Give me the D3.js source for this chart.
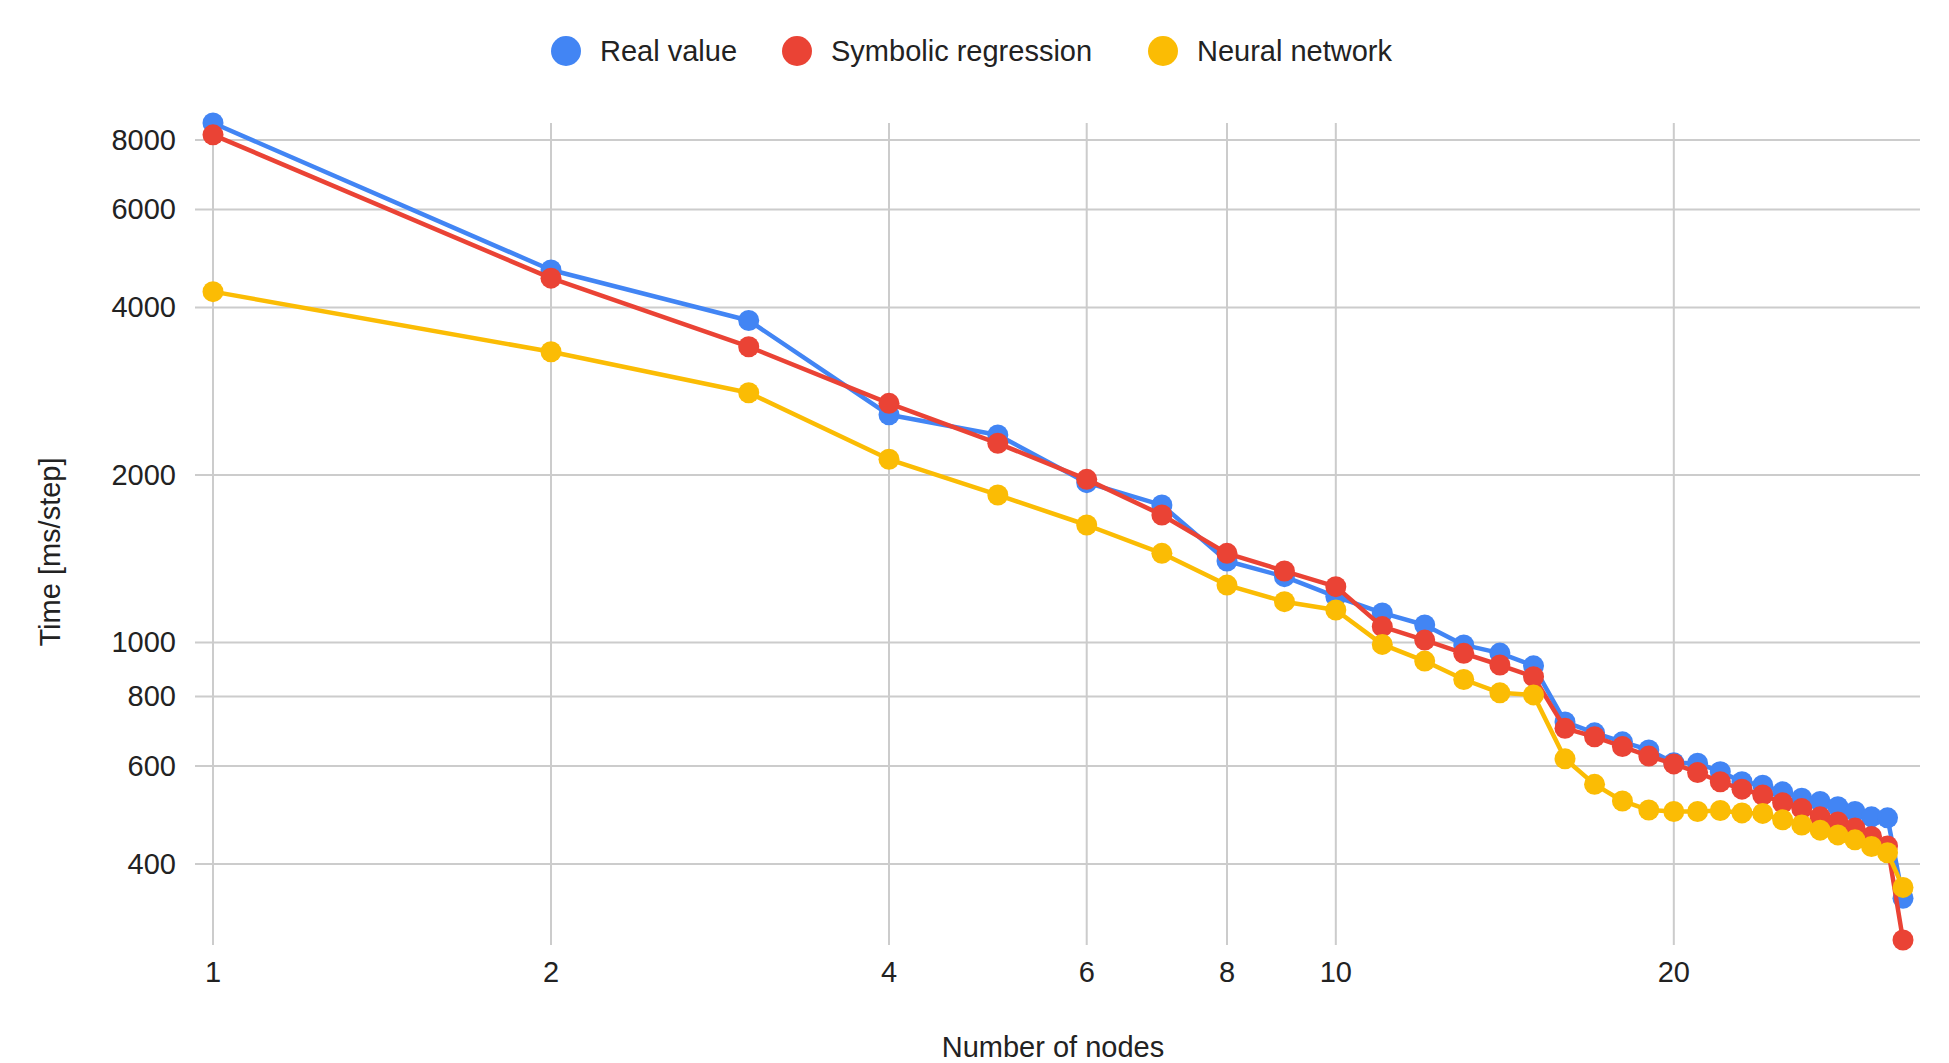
<!DOCTYPE html>
<html>
<head>
<meta charset="utf-8">
<script src="https://cdn.jsdelivr.net/npm/d3@7"></script>
<style>
  body { margin: 0; background: #fff; }
  svg text { font-family: Arial, "Liberation Sans", sans-serif; fill: #222; font-size: 29px; }
</style>
</head>
<body>
<svg id="chart" width="1949" height="1063"></svg>
<script>
// data
const nodes = d3.range(1, 33);

const realValue = [8580, 4670, 3790, 2565, 2360, 1937, 1766, 1401, 1313, 1209,
  1130, 1075, 990, 957, 908, 720, 688, 663, 641, 608,
  607, 586, 562, 554, 539, 525, 518, 507, 497, 486, 484, 347];

const symbolicRegression = [8170, 4515, 3400, 2690, 2280, 1964, 1695, 1446, 1344, 1260,
  1068, 1010, 956, 911, 868, 701, 677, 650, 625, 605,
  584, 562, 545, 532, 515, 503, 486, 476, 464, 448, 431, 292];

const neuralNetwork = [4270, 3330, 2810, 2134, 1841, 1626, 1446, 1268, 1184, 1144,
  992, 926, 858, 812, 805, 618, 556, 519, 500, 497,
  497, 499, 494, 493, 480, 470, 460, 451, 442, 430, 419, 363];

const seriesNames = ["Real value", "Symbolic regression", "Neural network"];
const seriesColors = ["#4285F4", "#EA4335", "#FBBC04"];
const xTicks = [1, 2, 4, 6, 8, 10, 20];
const yTicks = [400, 600, 800, 1000, 2000, 4000, 6000, 8000];

const series = [realValue, symbolicRegression, neuralNetwork].map((vals, i) => ({
  name: seriesNames[i],
  color: seriesColors[i],
  points: vals.map((v, j) => ({ x: nodes[j], y: v }))
}));

const svg = d3.select("#chart");
const plot = { left: 195, right: 1920, top: 123, bottom: 940 };

const allVals = realValue.concat(symbolicRegression, neuralNetwork);
const x = d3.scaleLog().domain([1, 32]).range([213, 1903]);
const y = d3.scaleLog().domain(d3.extent(allVals)).range([plot.bottom, plot.top]);

// gridlines
const grid = svg.append("g");
grid.selectAll(".hg").data(yTicks).join("line")
  .attr("x1", plot.left).attr("x2", plot.right)
  .attr("y1", d => y(d)).attr("y2", d => y(d))
  .attr("stroke", "#cccccc").attr("stroke-width", 2);
grid.selectAll(".vg").data(xTicks).join("line")
  .attr("x1", d => x(d)).attr("x2", d => x(d))
  .attr("y1", plot.top).attr("y2", plot.bottom + 5)
  .attr("stroke", "#cccccc").attr("stroke-width", 2);

// tick labels
svg.append("g").selectAll("text").data(yTicks).join("text")
  .attr("x", 176).attr("y", d => y(d))
  .attr("text-anchor", "end").attr("dominant-baseline", "central")
  .text(d => d);
svg.append("g").selectAll("text").data(xTicks).join("text")
  .attr("x", d => x(d)).attr("y", 972)
  .attr("text-anchor", "middle").attr("dominant-baseline", "central")
  .text(d => d);

// axis titles
svg.append("text")
  .attr("transform", "translate(50,552) rotate(-90)")
  .attr("text-anchor", "middle").attr("dominant-baseline", "central")
  .text("Time [ms/step]");
svg.append("text")
  .attr("x", 1053).attr("y", 1047)
  .attr("text-anchor", "middle").attr("dominant-baseline", "central")
  .text("Number of nodes");

// lines and markers
const line = d3.line().x(d => x(d.x)).y(d => y(d.y));
series.forEach(s => {
  const g = svg.append("g");
  g.append("path").datum(s.points)
    .attr("d", line)
    .attr("fill", "none")
    .attr("stroke", s.color)
    .attr("stroke-width", 4.5)
    .attr("stroke-linejoin", "round");
  g.selectAll("circle").data(s.points).join("circle")
    .attr("cx", d => x(d.x)).attr("cy", d => y(d.y))
    .attr("r", 10.5)
    .attr("fill", s.color);
});

// legend
const legendX = [566, 797, 1163];
const items = svg.append("g").selectAll("g").data(series).join("g")
  .attr("transform", (d, i) => `translate(${legendX[i]},51)`);
items.append("circle").attr("r", 15).attr("fill", d => d.color);
items.append("text").attr("x", 34)
  .attr("dominant-baseline", "central")
  .text(d => d.name);
</script>
</body>
</html>
